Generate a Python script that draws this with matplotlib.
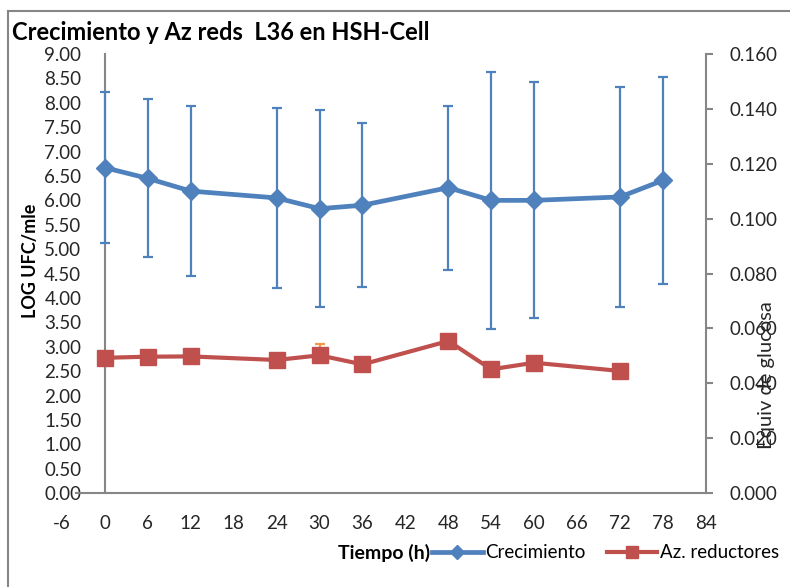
import matplotlib
matplotlib.use('Agg')
import matplotlib.pyplot as plt
from matplotlib.lines import Line2D

# ----------------------------------------------------------------
# datos
# ----------------------------------------------------------------
horas_crec = [0, 6, 12, 24, 30, 36, 48, 54, 60, 72, 78]
log_ufc = [6.67, 6.45, 6.19, 6.05, 5.83, 5.90, 6.26, 6.00, 6.00, 6.07, 6.41]
err_ufc = [1.55, 1.62, 1.74, 1.85, 2.02, 1.68, 1.68, 2.63, 2.42, 2.25, 2.12]

horas_az = [0, 6, 12, 24, 30, 36, 48, 54, 60, 72]
az_red = [0.0493, 0.0497, 0.0498, 0.0485, 0.0502, 0.0469, 0.0554, 0.0451, 0.0475, 0.0445]
err_az_abajo = [0.001, 0.001, 0.001, 0.001, 0.001, 0.001, 0.001, 0.001, 0.001, 0.001]
err_az_arriba = [0.001, 0.001, 0.0015, 0.001, 0.0042, 0.001, 0.002, 0.001, 0.001, 0.001]

x_ticks = list(range(-6, 85, 6))
y_ticks_izq = [i * 0.5 for i in range(19)]
y_ticks_der = [i * 0.02 for i in range(9)]

AZUL = '#4F81BD'
ROJO = '#C0504D'
NARANJA = '#F79646'
GRIS = '#868686'
TEXTO = '#262626'

plt.rcParams['font.family'] = ['Lato', 'DejaVu Sans']
plt.rcParams['font.size'] = 13
plt.rcParams['axes.unicode_minus'] = False

fig = plt.figure(figsize=(7.9, 5.87), dpi=100)
ax = fig.add_axes([0.0785, 0.160, 0.815, 0.748])
ax2 = ax.twinx()

# serie de crecimiento (eje izquierdo)
ax.errorbar(horas_crec, log_ufc, yerr=err_ufc, color=AZUL, lw=3.4,
            marker='D', markersize=9, ecolor=AZUL, elinewidth=1.6,
            capsize=3.5, capthick=1.6, zorder=3)

# azucares reductores (eje derecho)
ax2.errorbar(horas_az, az_red, yerr=[err_az_abajo, err_az_arriba], color=ROJO,
             lw=3.0, marker='s', markersize=12, ecolor=NARANJA, elinewidth=1.6,
             capsize=3.5, capthick=1.6, zorder=3)

ax.set_xlim(-6, 84)
ax.set_ylim(0, 9)
ax2.set_ylim(0, 0.16)
ax.set_xticks(x_ticks)
ax.set_yticks(y_ticks_izq)
ax.set_yticklabels([f'{v:.2f}' for v in y_ticks_izq])
ax2.set_yticks(y_ticks_der)
ax2.set_yticklabels([f'{v:.3f}' for v in y_ticks_der])

for a in (ax, ax2):
    a.spines['top'].set_visible(False)
    for s in a.spines.values():
        s.set_color(GRIS)
        s.set_linewidth(1.5)
ax.spines['left'].set_position(('data', 0))
ax.spines['right'].set_visible(False)
ax.spines['bottom'].set_bounds(-4, 84)
ax2.spines['left'].set_visible(False)
ax2.spines['bottom'].set_visible(False)

ax.tick_params(axis='x', length=0, pad=16, labelsize=13.5, colors=TEXTO)
ax.tick_params(axis='y', length=0, pad=17, labelsize=13.5, colors=TEXTO)
ax2.tick_params(axis='y', length=5, width=1.5, color=GRIS, pad=12,
                labelsize=13.5, labelcolor=TEXTO)
ax.patch.set_visible(False)

# textos
fig.text(0.015, 0.944, 'Crecimiento y Az reds  L36 en HSH-Cell',
         fontsize=17, fontweight='bold', ha='left', va='center')
fig.text(0.038, 0.555, 'LOG UFC/mle', rotation=90, fontsize=13,
         fontweight='bold', ha='center', va='center')
fig.text(0.970, 0.361, 'Equiv de glucosa', rotation=90, fontsize=14.5,
         ha='center', va='center', color=TEXTO)
fig.text(0.544, 0.058, 'Tiempo (h)', fontsize=14, fontweight='bold',
         ha='right', va='center')

handles = [
    Line2D([], [], color=AZUL, lw=3.4, marker='D', markersize=7),
    Line2D([], [], color=ROJO, lw=3.0, marker='s', markersize=9),
]
fig.legend(handles, ['Crecimiento', 'Az. reductores'], loc='center left',
           bbox_to_anchor=(0.547, 0.058), ncol=2, frameon=False,
           fontsize=13.5, handlelength=2.7, handletextpad=0.15,
           columnspacing=1.1, borderaxespad=0, borderpad=0)

# marco exterior
fig.add_artist(Line2D([0.010, 0.010], [0.0, 0.981], color=GRIS, lw=1.5,
                      transform=fig.transFigure))
fig.add_artist(Line2D([0.010, 1.0], [0.981, 0.981], color=GRIS, lw=1.5,
                      transform=fig.transFigure))

fig.savefig('out.png', dpi=100)
